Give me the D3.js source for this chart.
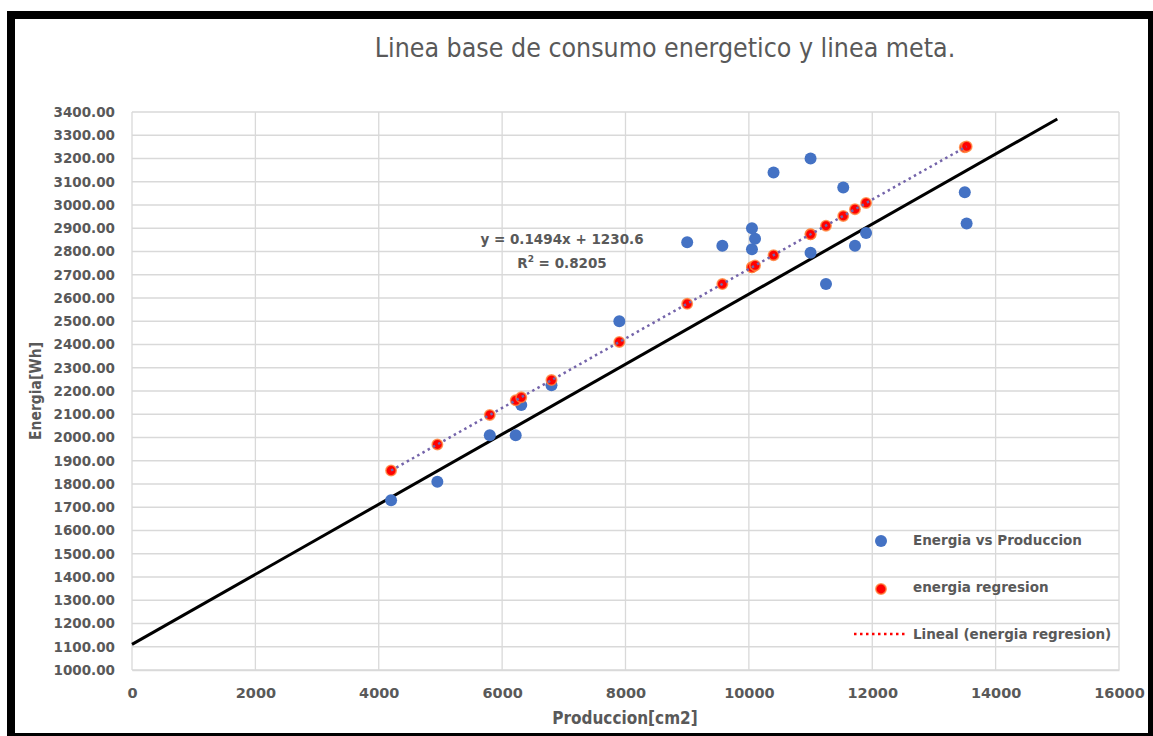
<!DOCTYPE html>
<html>
<head>
<meta charset="utf-8">
<script src="https://cdn.jsdelivr.net/npm/d3@7/dist/d3.min.js"></script>
<style>
  body { margin: 0; background: #fff; }
  text { fill: #595959; }
</style>
</head>
<body>
<svg id="canvas"></svg>
<script>
// produccion [cm2] and energia [Wh]
const produccion = [4200, 4950, 5800, 6220, 6310, 6800, 7900, 9000, 9570, 10050, 10050,
  10100, 10400, 11000, 11000, 11250, 11530, 11720, 11900, 13500, 13530]
const energia = [1730, 1810, 2010, 2010, 2140, 2225, 2500, 2840, 2825, 2900, 2810,
  2855, 3140, 3200, 2795, 2660, 3075, 2825, 2880, 3055, 2920]
const energiaRegresion = [1858, 1970, 2097, 2160, 2173, 2247, 2411, 2575, 2660, 2732, 2732,
  2740, 2784, 2874, 2874, 2911, 2953, 2982, 3009, 3248, 3252]

// linea meta
const metaX = [0, 15000]
const metaY = [1110, 3370]

const trendSlope = 0.1494
const trendIntercept = 1230.6

const xTicks = d3.range(0, 16001, 2000)
const yTicks = d3.range(1000, 3401, 100)

const legendLabels = ['Energia vs Produccion', 'energia regresion', 'Lineal (energia regresion)']

let width = 1153,
height = 736

let canvas = d3.select('#canvas')
.attr('width', width)
.attr('height', height)

canvas.append('rect').attr('width', width).attr('height', height).attr('fill', '#fff')

let x = d3.scaleLinear().domain([0, 16000]).range([132, 1119])
let y = d3.scaleLinear().domain([1000, 3400]).range([670, 112])

// grid
canvas.append('g').selectAll('line')
.data(yTicks)
.enter().append('line')
.attr('x1', x(0)).attr('x2', x(16000))
.attr('y1', d => y(d)).attr('y2', d => y(d))
.attr('stroke', '#d9d9d9').attr('stroke-width', 1.3)

canvas.append('g').selectAll('line')
.data(xTicks)
.enter().append('line')
.attr('x1', d => x(d)).attr('x2', d => x(d))
.attr('y1', y(1000)).attr('y2', y(3400))
.attr('stroke', '#d9d9d9').attr('stroke-width', 1.3)

// axes (labels only, Excel style)
let yAxis = d3.axisLeft(y).tickValues(yTicks).tickSize(0).tickPadding(17).tickFormat(d3.format('.2f'))
let xAxis = d3.axisBottom(x).tickValues(xTicks).tickSize(0).tickPadding(18).tickFormat(d => d)

let gy = canvas.append('g').attr('transform', `translate(${x(0)},0)`).call(yAxis)
let gx = canvas.append('g').attr('transform', `translate(0,${y(1000)})`).call(xAxis)
gy.select('.domain').remove()
gx.select('.domain').attr('stroke', '#d9d9d9').attr('stroke-width', 1.3)
canvas.selectAll('.tick text')
.attr('font-family', 'DejaVu Sans, sans-serif')
.attr('font-weight', 'bold')
.attr('fill', '#595959')
gy.selectAll('.tick text').attr('font-size', 13.5)
gx.selectAll('.tick text').attr('font-size', 14.5)

// linea meta
let line = d3.line().x(d => x(d[0])).y(d => y(d[1]))
canvas.append('path')
.attr('d', line(d3.zip(metaX, metaY)))
.attr('stroke', '#000').attr('stroke-width', 3).attr('fill', 'none')

// points
let pts = d3.zip(produccion, energia)
canvas.append('g').selectAll('circle')
.data(pts)
.enter().append('circle')
.attr('cx', d => x(d[0])).attr('cy', d => y(d[1]))
.attr('r', 6).attr('fill', '#4472c4')

let reg = d3.zip(produccion, energiaRegresion)
canvas.append('g').selectAll('circle')
.data(reg)
.enter().append('circle')
.attr('cx', d => x(d[0])).attr('cy', d => y(d[1]))
.attr('r', 5.2).attr('fill', '#ff0000')
.attr('stroke', '#ff8a40').attr('stroke-width', 1.6).attr('stroke-opacity', 0.8)

// trendline over the data range
let xMin = d3.min(produccion), xMax = d3.max(produccion)
canvas.append('path')
.attr('d', line([[xMin, trendSlope * xMin + trendIntercept], [xMax, trendSlope * xMax + trendIntercept]]))
.attr('stroke', '#7464aa').attr('stroke-width', 2.5)
.attr('stroke-dasharray', '2.5,3.5').attr('fill', 'none')

// equation
let eq = canvas.append('text')
.attr('text-anchor', 'middle')
.attr('font-family', 'DejaVu Sans, sans-serif')
.attr('font-weight', 'bold').attr('font-size', 13.5)
eq.append('tspan').attr('x', 562).attr('y', 244).text(`y = ${trendSlope}x + ${trendIntercept}`)
let r2 = eq.append('tspan').attr('x', 562).attr('y', 268)
r2.append('tspan').text('R')
r2.append('tspan').attr('font-size', 9).attr('dy', -6).text('2')
r2.append('tspan').attr('dy', 6).text(' = 0.8205')

// legend
let legend = canvas.append('g')
legend.append('circle').attr('cx', 881).attr('cy', 541).attr('r', 6).attr('fill', '#4472c4')
legend.append('circle').attr('cx', 881).attr('cy', 589).attr('r', 5.2).attr('fill', '#ff0000')
.attr('stroke', '#ff8a40').attr('stroke-width', 1.6).attr('stroke-opacity', 0.8)
legend.append('line').attr('x1', 854).attr('x2', 908).attr('y1', 634).attr('y2', 634)
.attr('stroke', '#ff0000').attr('stroke-width', 2.5).attr('stroke-dasharray', '2.5,3.5')
legend.selectAll('text')
.data(legendLabels)
.enter().append('text')
.attr('x', 913)
.attr('y', (d, i) => 545 + i * 47)
.attr('font-family', 'DejaVu Sans, sans-serif')
.attr('font-weight', 'bold').attr('font-size', 13.5)
.text(d => d)

// titles
canvas.append('text')
.attr('x', 665).attr('y', 57)
.attr('text-anchor', 'middle')
.attr('font-family', 'Liberation Sans Narrow, DejaVu Sans Condensed, sans-serif')
.attr('font-size', 26.5)
.text('Linea base de consumo energetico y linea meta.')

canvas.append('text')
.attr('x', 625).attr('y', 724)
.attr('text-anchor', 'middle')
.attr('font-family', 'Liberation Sans Narrow, DejaVu Sans Condensed, sans-serif')
.attr('font-weight', 'bold').attr('font-size', 17)
.text('Produccion[cm2]')

canvas.append('text')
.attr('transform', 'translate(41,391) rotate(-90)')
.attr('text-anchor', 'middle')
.attr('font-family', 'Liberation Sans Narrow, DejaVu Sans Condensed, sans-serif')
.attr('font-weight', 'bold').attr('font-size', 15.5)
.text('Energia[Wh]')

// black frame
canvas.append('rect')
.attr('x', 11).attr('y', 15)
.attr('width', 1141).attr('height', 722)
.attr('fill', 'none').attr('stroke', '#000').attr('stroke-width', 8)
</script>
</body>
</html>
